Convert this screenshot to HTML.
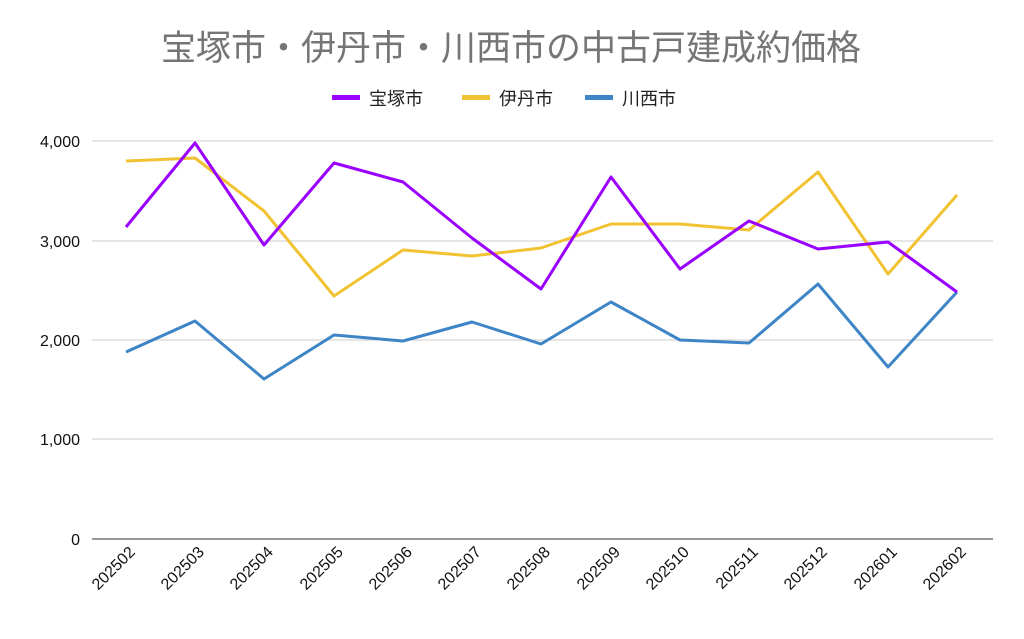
<!DOCTYPE html>
<html><head><meta charset="utf-8"><style>
body{margin:0;background:#fff;}
svg text{font-family:"Liberation Sans","Noto Sans CJK JP",sans-serif;}
</style></head><body>
<svg width="1024" height="634" xmlns="http://www.w3.org/2000/svg">
<rect width="1024" height="634" fill="#fff"/>
<text x="511" y="60" font-size="35" fill="#757575" text-anchor="middle">宝塚市・伊丹市・川西市の中古戸建成約価格</text>
<g font-size="18" fill="#222">
<rect x="332" y="95" width="28" height="5" fill="#9a00ff"/><text x="369" y="105">宝塚市</text>
<rect x="462" y="95" width="28" height="5" fill="#f1c232"/><text x="499" y="105">伊丹市</text>
<rect x="585" y="95" width="28" height="5" fill="#3d85c6"/><text x="622" y="105">川西市</text>
</g>
<g stroke="#ccc" stroke-width="1">
<line x1="92" y1="141" x2="993" y2="141"/><line x1="92" y1="241" x2="993" y2="241"/>
<line x1="92" y1="340" x2="993" y2="340"/><line x1="92" y1="439" x2="993" y2="439"/>
</g>
<line x1="92" y1="539" x2="993" y2="539" stroke="#333" stroke-width="1"/>
<g font-size="16" fill="#111" text-anchor="end">
<text x="80" y="147">4,000</text><text x="80" y="247">3,000</text><text x="80" y="346">2,000</text><text x="80" y="445">1,000</text><text x="80" y="545">0</text>
</g>
<g font-size="16" fill="#111" text-anchor="end">
<text transform="translate(136,553) rotate(-45)">202502</text>
<text transform="translate(205,553) rotate(-45)">202503</text>
<text transform="translate(274,553) rotate(-45)">202504</text>
<text transform="translate(344,553) rotate(-45)">202505</text>
<text transform="translate(413,553) rotate(-45)">202506</text>
<text transform="translate(482,553) rotate(-45)">202507</text>
<text transform="translate(551,553) rotate(-45)">202508</text>
<text transform="translate(621,553) rotate(-45)">202509</text>
<text transform="translate(690,553) rotate(-45)">202510</text>
<text transform="translate(759,553) rotate(-45)">202511</text>
<text transform="translate(828,553) rotate(-45)">202512</text>
<text transform="translate(898,553) rotate(-45)">202601</text>
<text transform="translate(967,553) rotate(-45)">202602</text>
</g>
<g fill="none" stroke-width="3" stroke-linejoin="round">
<polyline stroke="#3d85c6" points="126,352 195,321 264,379 334,335 403,341 472,322 541,344 611,302 680,340 749,343 818,284 888,367 957,292"/>
<polyline stroke="#f1c232" points="126,161 195,158 264,211 334,296 403,250 472,256 541,248 611,224 680,224 749,230 818,172 888,274 957,195"/>
<polyline stroke="#9a00ff" points="126,227 195,143 264,245 334,163 403,182 472,238 541,289 611,177 680,269 749,221 818,249 888,242 957,292"/>
</g>
</svg>
</body></html>
